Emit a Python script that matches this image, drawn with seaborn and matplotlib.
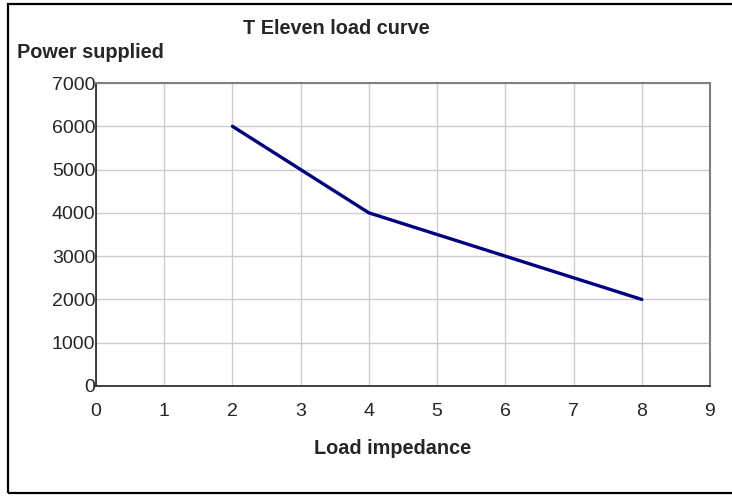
import matplotlib
matplotlib.use("Agg")
import matplotlib.pyplot as plt
import seaborn as sns
import pandas as pd
from matplotlib.patches import Rectangle

# data
impedance = [2, 3, 4, 5, 6, 7, 8]
power = [6000, 5000, 4000, 3500, 3000, 2500, 2000]
x_ticks = [0, 1, 2, 3, 4, 5, 6, 7, 8, 9]
y_ticks = [0, 1000, 2000, 3000, 4000, 5000, 6000, 7000]

df = pd.DataFrame({"Load impedance": impedance, "Power supplied": power})

sns.set_style("white")
plt.rcParams['font.family'] = ['Liberation Sans', 'DejaVu Sans']

fig = plt.figure(figsize=(7.32, 4.97), dpi=100)
ax = fig.add_axes([96/732, 1-386/497, (710-96)/732, (386-83)/497])

sns.lineplot(data=df, x="Load impedance", y="Power supplied", ax=ax,
             color='#000080', linewidth=2.4)

ax.set_xlim(0, 9)
ax.set_ylim(0, 7000)
ax.set_xticks(x_ticks)
ax.set_yticks(y_ticks)
ax.tick_params(axis='both', labelsize=14, direction='out', length=3.5,
               width=1, color='#333333')
ax.tick_params(axis='x', pad=8.5)
ax.tick_params(axis='y', pad=-3)
ax.grid(True, color='#cccccc', linewidth=1)
ax.set_axisbelow(True)

for s in ['left', 'bottom']:
    ax.spines[s].set_color('#333333')
    ax.spines[s].set_linewidth(1.3)
for s in ['top', 'right']:
    ax.spines[s].set_color('#808080')
    ax.spines[s].set_linewidth(1.5)

ax.set_xlabel("")
ax.set_ylabel("")
fig.text(393/732, 1-448/497, "Load impedance", ha='center', va='center',
         fontsize=14.3, fontweight='bold')
fig.text(17/732, 1-52/497, "Power supplied", ha='left', va='center',
         fontsize=14.3, fontweight='bold')
fig.text(336/732, 1-29/497, "T Eleven load curve", ha='center', va='center',
         fontsize=14.3, fontweight='bold')

# outer chart border
fig.patches.append(Rectangle((8/732, 4/497), 1.0, 1-8/497,
                             transform=fig.transFigure, fill=False,
                             edgecolor='black', linewidth=1.6))

fig.savefig("out.png", dpi=100)
